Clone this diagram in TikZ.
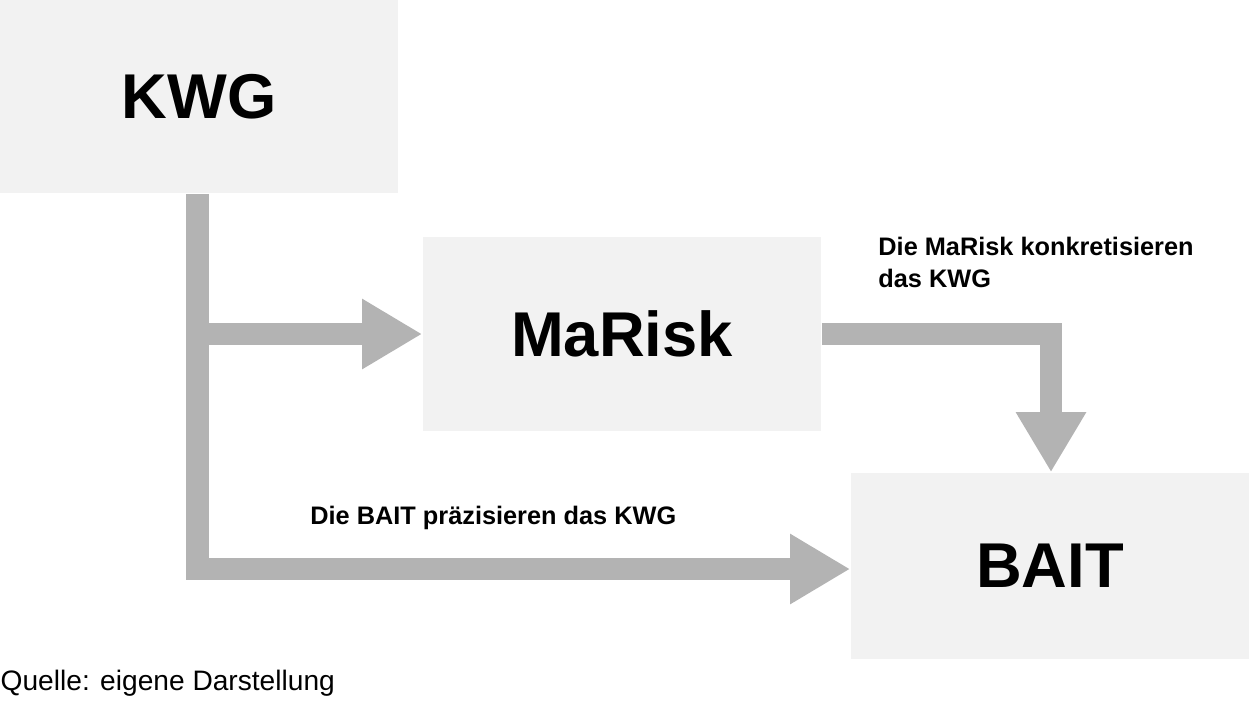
\documentclass[tikz,border=0pt]{standalone}
\usepackage{fontspec}
\setmainfont{Liberation Sans}
\usetikzlibrary{arrows.meta}
\definecolor{boxgray}{HTML}{F2F2F2}
\definecolor{arrowgray}{HTML}{B3B3B3}
\begin{document}
\begin{tikzpicture}[x=0.01cm, y=-0.01cm]

        % Styles of the boxes and of the thick arrows
        \tikzset{
            lawbox/.style={fill=boxgray, inner sep=0pt, font=\bfseries\fontsize{18}{20}\selectfont},
            flow/.style={arrowgray, line width=0.22cm, line join=miter,
                -{Triangle[width=0.66cm, length=0.6cm]}},
            note/.style={font=\bfseries\fontsize{7.2}{9}\selectfont, align=left, anchor=south west}
        }

        \useasboundingbox (0, 0) rectangle (1252, 702);

        % The three boxes
        \node[lawbox, minimum width=3.98cm, minimum height=1.93cm] (KWG) at (199, 96.5) {KWG};
        \node[lawbox, minimum width=3.98cm, minimum height=1.94cm] (MaRisk) at (622, 334) {MaRisk};
        \node[lawbox, minimum width=3.98cm, minimum height=1.86cm] (BAIT) at (1050, 566) {BAIT};

        \coordinate (C1) at (197.5, 569);
        \coordinate (C2) at (197.5, 334);
        \coordinate (C3) at (1051, 334);

        % Arrows between the boxes
        \draw[flow] (KWG.south -| C1) -- (C1) -- (BAIT.west |- C1);
        \draw[flow] (C2) -- (MaRisk.west);
        \draw[flow] (MaRisk.east) -- (C3) -- (BAIT.north -| C3);

        \node[note] (NoteMaRisk) at (866, 300) {Die MaRisk konkretisieren\\das KWG};
        \node[note] (NoteBAIT) at (298, 542) {Die BAIT präzisieren das KWG};
        \node[font=\fontsize{8}{10}\selectfont, anchor=south west, inner sep=0pt] (Quelle) at (0, 697) {Quelle: eigene Darstellung};

\end{tikzpicture}
\end{document}
